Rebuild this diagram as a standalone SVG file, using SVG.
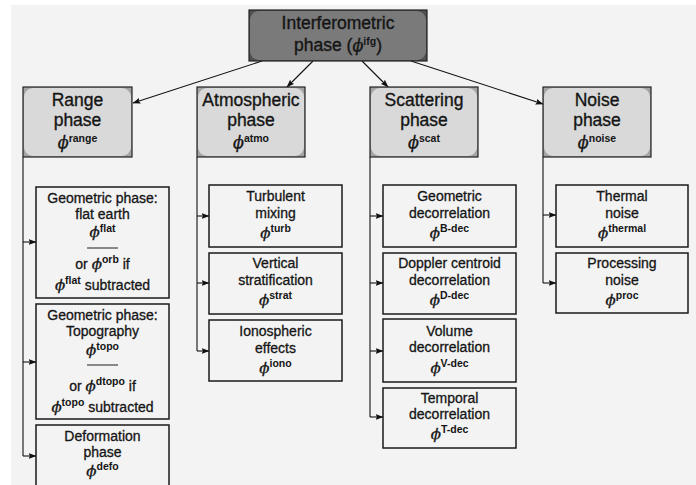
<svg xmlns="http://www.w3.org/2000/svg" width="696" height="485" viewBox="0 0 696 485">
<defs>
<marker id="ah" markerWidth="8" markerHeight="6" refX="7.5" refY="3" orient="auto" markerUnits="userSpaceOnUse">
<path d="M0,0 L8,3 L0,6 L1.5,3 z" fill="#111"/>
</marker>
<style>
.bg{fill:#f3f3f3}
.t{font-family:"Liberation Sans",Arial,sans-serif;font-size:14px;fill:#151515;stroke:#151515;stroke-width:0.3;text-anchor:middle}
.h{font-family:"Liberation Sans",Arial,sans-serif;font-size:17.5px;fill:#151515;stroke:#151515;stroke-width:0.35;text-anchor:middle}
.phi{font-family:"DejaVu Serif",serif;font-style:italic;font-size:15px}
.phib{font-family:"DejaVu Serif",serif;font-style:italic;font-size:16px}
.sup{font-size:10.5px;font-weight:bold;stroke-width:0}
.child{fill:#f3f3f3;stroke:#1a1a1a;stroke-width:1.5}
.mo{fill:#a4a4a4;stroke:#222;stroke-width:1.2}
.mi{fill:#d9d9d9}
.to{fill:#505050;stroke:#222;stroke-width:1.2}
.ti{fill:#7a7a7a}
.c{fill:none;stroke:#111;stroke-width:1.1}
.rule{stroke:#444;stroke-width:1.2}
</style>
</defs>
<rect x="0" y="0" width="696" height="485" fill="#ffffff"/>
<rect x="11" y="5" width="685" height="480" class="bg"/>

<g id="connectors">
<line class="c" x1="262" y1="61" x2="133" y2="103" marker-end="url(#ah)"/>
<line class="c" x1="313" y1="61" x2="287" y2="87" marker-end="url(#ah)"/>
<line class="c" x1="362" y1="61" x2="388" y2="87" marker-end="url(#ah)"/>
<line class="c" x1="411" y1="61" x2="543" y2="104" marker-end="url(#ah)"/>
<path class="c" d="M23,157 V456"/>
<line class="c" x1="23" y1="242" x2="36" y2="242" marker-end="url(#ah)"/>
<line class="c" x1="23" y1="362" x2="36" y2="362" marker-end="url(#ah)"/>
<line class="c" x1="23" y1="456" x2="36" y2="456" marker-end="url(#ah)"/>
<path class="c" d="M197,157 V351"/>
<line class="c" x1="197" y1="216" x2="209" y2="216" marker-end="url(#ah)"/>
<line class="c" x1="197" y1="283" x2="209" y2="283" marker-end="url(#ah)"/>
<line class="c" x1="197" y1="351" x2="209" y2="351" marker-end="url(#ah)"/>
<path class="c" d="M370,157 V417"/>
<line class="c" x1="370" y1="216" x2="383" y2="216" marker-end="url(#ah)"/>
<line class="c" x1="370" y1="283" x2="383" y2="283" marker-end="url(#ah)"/>
<line class="c" x1="370" y1="351" x2="383" y2="351" marker-end="url(#ah)"/>
<line class="c" x1="370" y1="417" x2="383" y2="417" marker-end="url(#ah)"/>
<path class="c" d="M543,157 V283"/>
<line class="c" x1="543" y1="215" x2="556" y2="215" marker-end="url(#ah)"/>
<line class="c" x1="543" y1="283" x2="556" y2="283" marker-end="url(#ah)"/>
</g>

<g id="ifg">
<rect class="to" x="249" y="10" width="178" height="51"/>
<rect class="ti" x="250" y="11" width="176" height="49" rx="9"/>
<text class="h" x="338" y="29">Interferometric</text>
<text class="h" x="338" y="51">phase (<tspan class="phib">ϕ</tspan><tspan class="sup" dy="-6">ifg</tspan><tspan dy="6">)</tspan></text>
</g>

<g id="range">
<rect class="mo" x="23" y="87" width="109" height="70"/>
<rect class="mi" x="24" y="88" width="107" height="68" rx="9"/>
<text class="h" x="77.5" y="106">Range</text>
<text class="h" x="77.5" y="126">phase</text>
<text class="h" x="77.5" y="148"><tspan class="phib">ϕ</tspan><tspan class="sup" dy="-6">range</tspan></text>
</g>
<g id="atmo">
<rect class="mo" x="197" y="87" width="108" height="70"/>
<rect class="mi" x="198" y="88" width="106" height="68" rx="9"/>
<text class="h" x="251" y="106">Atmospheric</text>
<text class="h" x="251" y="126">phase</text>
<text class="h" x="251" y="148"><tspan class="phib">ϕ</tspan><tspan class="sup" dy="-6">atmo</tspan></text>
</g>
<g id="scat">
<rect class="mo" x="370" y="87" width="108" height="70"/>
<rect class="mi" x="371" y="88" width="106" height="68" rx="9"/>
<text class="h" x="424" y="106">Scattering</text>
<text class="h" x="424" y="126">phase</text>
<text class="h" x="424" y="148"><tspan class="phib">ϕ</tspan><tspan class="sup" dy="-6">scat</tspan></text>
</g>
<g id="noise">
<rect class="mo" x="543" y="87" width="108" height="70"/>
<rect class="mi" x="544" y="88" width="106" height="68" rx="9"/>
<text class="h" x="597" y="106">Noise</text>
<text class="h" x="597" y="126">phase</text>
<text class="h" x="597" y="148"><tspan class="phib">ϕ</tspan><tspan class="sup" dy="-6">noise</tspan></text>
</g>

<g id="flat">
<rect class="child" x="36" y="187" width="133" height="111"/>
<text class="t" x="102.5" y="203">Geometric phase:</text>
<text class="t" x="102.5" y="219">flat earth</text>
<text class="t" x="102.5" y="237"><tspan class="phi">ϕ</tspan><tspan class="sup" dy="-5">flat</tspan></text>
<line class="rule" x1="87" y1="248" x2="118" y2="248"/>
<text class="t" x="102.5" y="269">or <tspan class="phi">ϕ</tspan><tspan class="sup" dy="-6">orb</tspan><tspan dy="6"> if</tspan></text>
<text class="t" x="102.5" y="290"><tspan class="phi">ϕ</tspan><tspan class="sup" dy="-6">flat</tspan><tspan dy="6"> subtracted</tspan></text>
</g>
<g id="topo">
<rect class="child" x="36" y="304" width="133" height="115"/>
<text class="t" x="102.5" y="320">Geometric phase:</text>
<text class="t" x="102.5" y="336">Topography</text>
<text class="t" x="102.5" y="355"><tspan class="phi">ϕ</tspan><tspan class="sup" dy="-5">topo</tspan></text>
<line class="rule" x1="87" y1="365" x2="118" y2="365"/>
<text class="t" x="102.5" y="391">or <tspan class="phi">ϕ</tspan><tspan class="sup" dy="-6">dtopo</tspan><tspan dy="6"> if</tspan></text>
<text class="t" x="102.5" y="412"><tspan class="phi">ϕ</tspan><tspan class="sup" dy="-6">topo</tspan><tspan dy="6"> subtracted</tspan></text>
</g>
<g id="defo">
<rect class="child" x="36" y="425" width="133" height="64"/>
<text class="t" x="102.5" y="441">Deformation</text>
<text class="t" x="102.5" y="457">phase</text>
<text class="t" x="102.5" y="476"><tspan class="phi">ϕ</tspan><tspan class="sup" dy="-6">defo</tspan></text>
</g>

<g id="turb">
<rect class="child" x="209" y="185" width="133" height="62"/>
<text class="t" x="275.5" y="201">Turbulent</text>
<text class="t" x="275.5" y="218">mixing</text>
<text class="t" x="275.5" y="238"><tspan class="phi">ϕ</tspan><tspan class="sup" dy="-6">turb</tspan></text>
</g>
<g id="strat">
<rect class="child" x="209" y="253" width="133" height="61"/>
<text class="t" x="275.5" y="268">Vertical</text>
<text class="t" x="275.5" y="285">stratification</text>
<text class="t" x="275.5" y="305"><tspan class="phi">ϕ</tspan><tspan class="sup" dy="-6">strat</tspan></text>
</g>
<g id="iono">
<rect class="child" x="209" y="320" width="133" height="61"/>
<text class="t" x="275.5" y="336">Ionospheric</text>
<text class="t" x="275.5" y="353">effects</text>
<text class="t" x="275.5" y="373"><tspan class="phi">ϕ</tspan><tspan class="sup" dy="-6">iono</tspan></text>
</g>

<g id="bdec">
<rect class="child" x="383" y="185" width="133" height="62"/>
<text class="t" x="449.5" y="201">Geometric</text>
<text class="t" x="449.5" y="218">decorrelation</text>
<text class="t" x="449.5" y="238"><tspan class="phi">ϕ</tspan><tspan class="sup" dy="-6">B-dec</tspan></text>
</g>
<g id="ddec">
<rect class="child" x="383" y="253" width="133" height="61"/>
<text class="t" x="449.5" y="268">Doppler centroid</text>
<text class="t" x="449.5" y="285">decorrelation</text>
<text class="t" x="449.5" y="305"><tspan class="phi">ϕ</tspan><tspan class="sup" dy="-6">D-dec</tspan></text>
</g>
<g id="vdec">
<rect class="child" x="383" y="319" width="133" height="63"/>
<text class="t" x="449.5" y="336">Volume</text>
<text class="t" x="449.5" y="352">decorrelation</text>
<text class="t" x="449.5" y="373"><tspan class="phi">ϕ</tspan><tspan class="sup" dy="-6">V-dec</tspan></text>
</g>
<g id="tdec">
<rect class="child" x="383" y="388" width="133" height="60"/>
<text class="t" x="449.5" y="403">Temporal</text>
<text class="t" x="449.5" y="419">decorrelation</text>
<text class="t" x="449.5" y="439"><tspan class="phi">ϕ</tspan><tspan class="sup" dy="-6">T-dec</tspan></text>
</g>

<g id="thermal">
<rect class="child" x="556" y="185" width="132" height="62"/>
<text class="t" x="622" y="201">Thermal</text>
<text class="t" x="622" y="218">noise</text>
<text class="t" x="622" y="238"><tspan class="phi">ϕ</tspan><tspan class="sup" dy="-6">thermal</tspan></text>
</g>
<g id="proc">
<rect class="child" x="556" y="253" width="132" height="60"/>
<text class="t" x="622" y="268">Processing</text>
<text class="t" x="622" y="285">noise</text>
<text class="t" x="622" y="305"><tspan class="phi">ϕ</tspan><tspan class="sup" dy="-6">proc</tspan></text>
</g>
</svg>
